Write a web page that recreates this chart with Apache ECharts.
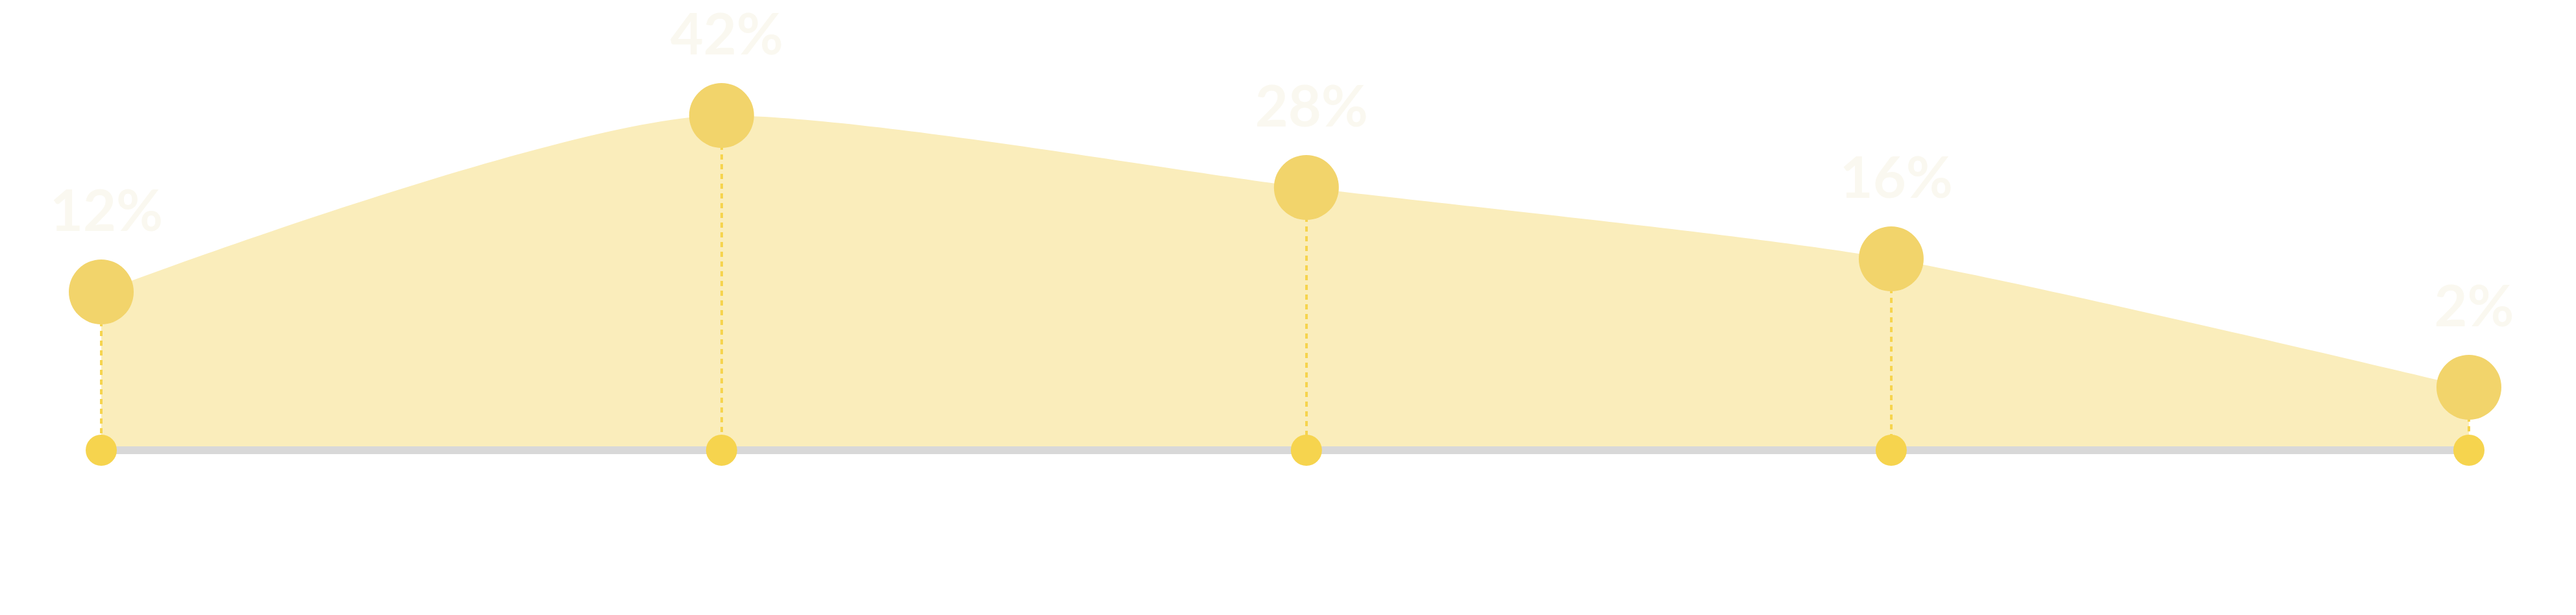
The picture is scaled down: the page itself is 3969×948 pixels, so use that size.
<!DOCTYPE html>
<html>
<head>
<meta charset="utf-8">
<title>chart</title>
<script src="https://cdn.jsdelivr.net/npm/echarts@6/dist/echarts.min.js"></script>
<style>
  html, body { margin: 0; padding: 0; background: #ffffff; }
  #main { width: 3969px; height: 948px; }
</style>
</head>
<body>
<div id="main"></div>
<script>
// 各点的位置（横向，0-100）
var xPos = [0, 26.2, 50.9, 75.6, 100];
// 曲线高度（从图上量的）
var levels = [24.4, 51.6, 40.5, 29.5, 9.7];
// 标签
var labels = ['12%', '42%', '28%', '16%', '2%'];

var chart = echarts.init(document.getElementById('main'));

var areaData = xPos.map(function (x, i) { return [x, levels[i]]; });
var baseData = xPos.map(function (x) { return [x, 0]; });
var dashLines = xPos.map(function (x, i) {
  return [{ coord: [x, levels[i]] }, { coord: [x, 0] }];
});

var option = {
  animation: false,
  grid: {
    left: 156,
    right: 165,
    top: 94,
    bottom: 254
  },
  xAxis: {
    type: 'value',
    min: 0,
    max: 100,
    z: 3,
    axisLine: {
      show: true,
      onZero: true,
      lineStyle: { color: '#d8d8d8', width: 12 }
    },
    axisTick: { show: false },
    axisLabel: { show: false },
    splitLine: { show: false }
  },
  yAxis: {
    type: 'value',
    min: 0,
    max: 60,
    show: false,
    splitLine: { show: false }
  },
  series: [
    {
      type: 'line',
      data: areaData,
      smooth: 0.24,
      showSymbol: false,
      z: 1,
      lineStyle: { width: 0 },
      areaStyle: { color: '#faedbb', opacity: 1 },
      markLine: {
        silent: true,
        symbol: ['none', 'none'],
        label: { show: false },
        lineStyle: { type: [8, 7], width: 4, color: '#f6d44e' },
        data: dashLines
      }
    },
    {
      type: 'scatter',
      data: areaData,
      symbol: 'circle',
      symbolSize: 100,
      z: 5,
      itemStyle: { color: '#f2d46b', opacity: 1 },
      label: {
        show: true,
        position: 'inside',
        offset: [8, -122],
        formatter: function (p) { return labels[p.dataIndex]; },
        color: '#faf8f0',
        fontFamily: 'Lato',
        fontWeight: 'bold',
        fontSize: 88
      }
    },
    {
      type: 'scatter',
      data: baseData,
      symbol: 'circle',
      symbolSize: 48,
      z: 6,
      itemStyle: { color: '#f6d44e', opacity: 1 }
    }
  ]
};

chart.setOption(option);
</script>
</body>
</html>
